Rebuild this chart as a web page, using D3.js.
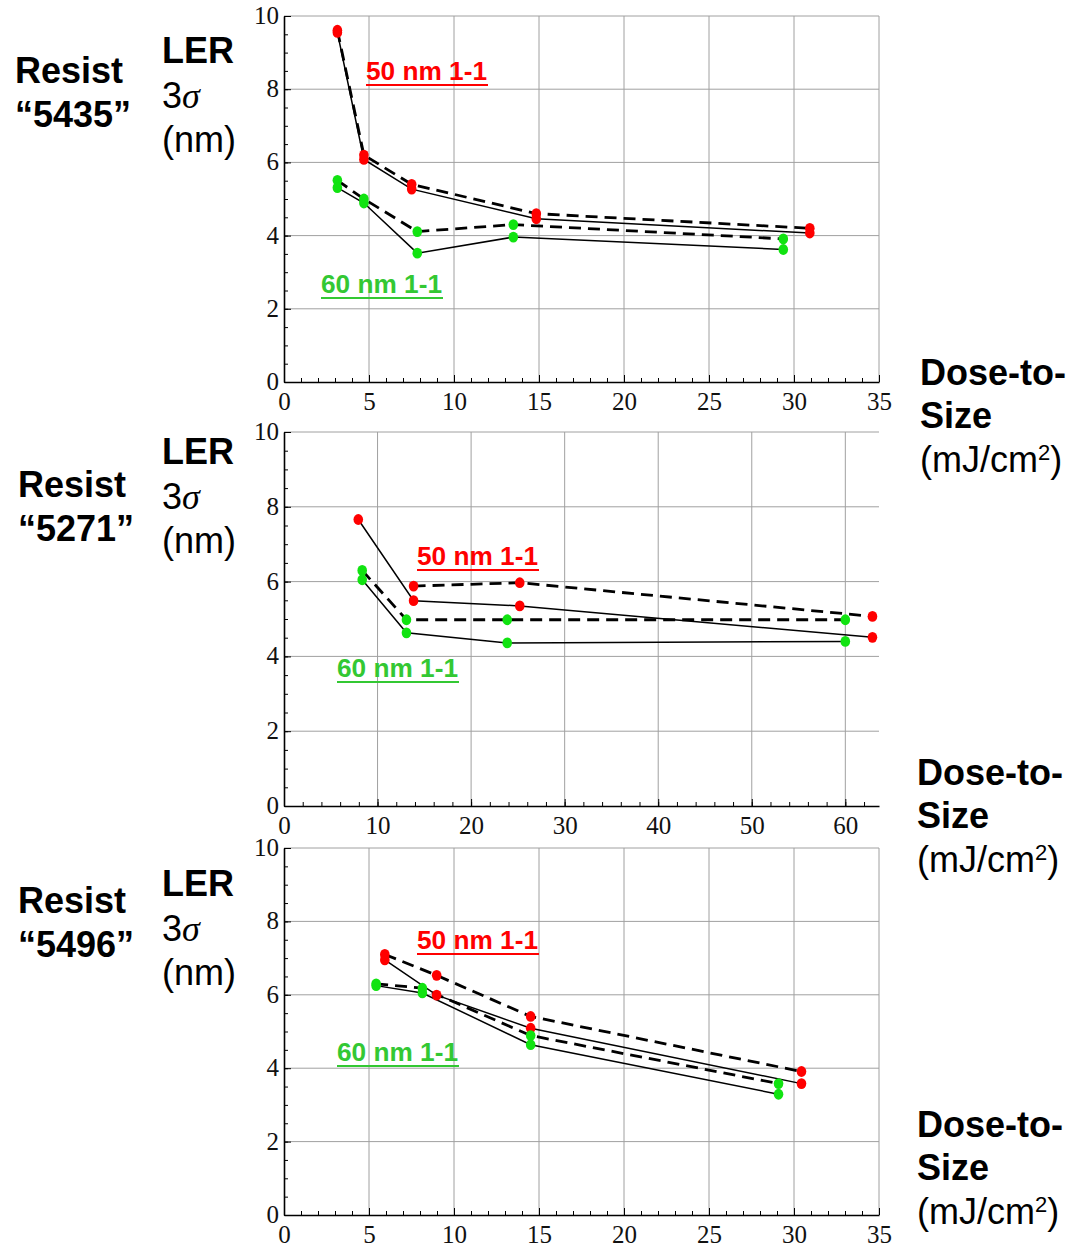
<!DOCTYPE html>
<html>
<head>
<meta charset="utf-8">
<script src="https://cdn.jsdelivr.net/npm/d3@7"></script>
<style>
  body { margin: 0; background: #fff; }
  .tick text { font-family: "Liberation Serif", serif; font-size: 25px; fill: #111; }
  .lbl { font-family: "Liberation Sans", Arial, sans-serif; font-size: 36px; fill: #000; }
  .lbl.b { font-weight: bold; }
  .note { font-family: "Liberation Sans", Arial, sans-serif; font-size: 26px; font-weight: bold; }
</style>
</head>
<body>
<div id="chart"></div>
<script>
// ---- data ----
const resists = ['5435', '5271', '5496'];
const xMaxes = [35, 63.6, 35];

// Resist 5435
const p1RedX = [3.14, 4.70, 7.51, 14.84, 30.93];
const p1RedSolid = [9.55, 6.08, 5.27, 4.46, 4.07];
const p1RedDashed = [9.61, 6.20, 5.40, 4.60, 4.20];
const p1GreenX = [3.14, 4.70, 7.84, 13.49, 29.37];
const p1GreenSolid = [5.31, 4.89, 3.52, 3.96, 3.62];
const p1GreenDashed = [5.51, 5.00, 4.11, 4.30, 3.91];

// Resist 5271
const p2RedSolidX = [7.94, 13.85, 25.2, 62.9];
const p2RedSolid = [7.66, 5.49, 5.35, 4.51];
const p2RedDashedX = [13.85, 25.2, 62.9];
const p2RedDashed = [5.88, 5.97, 5.07];
const p2GreenX = [8.36, 13.09, 23.86, 60.0];
const p2GreenSolid = [6.05, 4.63, 4.36, 4.40];
const p2GreenDashed = [6.30, 4.98, 4.98, 4.98];

// Resist 5496
const p3RedX = [5.93, 8.98, 14.51, 30.44];
const p3RedSolid = [6.95, 5.99, 5.09, 3.58];
const p3RedDashed = [7.10, 6.53, 5.41, 3.91];
const p3GreenX = [5.42, 8.14, 14.51, 29.09];
const p3GreenSolid = [6.25, 6.05, 4.64, 3.29];
const p3GreenDashed = [6.30, 6.18, 4.89, 3.58];

const yTicks = [0, 2, 4, 6, 8, 10];
const xTicks35 = [0, 5, 10, 15, 20, 25, 30, 35];
const xTicks60 = [0, 10, 20, 30, 40, 50, 60];

const zip = (xs, ys) => xs.map((x, i) => [x, ys[i]]);

const panels = [
  {
    top: 16, bottom: 382, xMax: xMaxes[0], xTicks: xTicks35, xMinorStep: 1,
    series: [
      { pts: zip(p1RedX, p1RedDashed), color: 'red', dashed: true },
      { pts: zip(p1RedX, p1RedSolid), color: 'red', dashed: false },
      { pts: zip(p1GreenX, p1GreenDashed), color: 'green', dashed: true },
      { pts: zip(p1GreenX, p1GreenSolid), color: 'green', dashed: false }
    ],
    left: { resistX: 15, resistY: 83, lerY: 63 },
    right: { x: 920, y: 385 },
    notes: { red: [366, 80], green: [321, 293] }
  },
  {
    top: 432, bottom: 806, xMax: xMaxes[1], xTicks: xTicks60, xMinorStep: 2,
    series: [
      { pts: zip(p2RedDashedX, p2RedDashed), color: 'red', dashed: true },
      { pts: zip(p2RedSolidX, p2RedSolid), color: 'red', dashed: false },
      { pts: zip(p2GreenX, p2GreenDashed), color: 'green', dashed: true },
      { pts: zip(p2GreenX, p2GreenSolid), color: 'green', dashed: false }
    ],
    left: { resistX: 18, resistY: 497, lerY: 464 },
    right: { x: 917, y: 785 },
    notes: { red: [417, 565], green: [337, 677] }
  },
  {
    top: 848, bottom: 1215, xMax: xMaxes[2], xTicks: xTicks35, xMinorStep: 1,
    series: [
      { pts: zip(p3RedX, p3RedDashed), color: 'red', dashed: true },
      { pts: zip(p3RedX, p3RedSolid), color: 'red', dashed: false },
      { pts: zip(p3GreenX, p3GreenDashed), color: 'green', dashed: true },
      { pts: zip(p3GreenX, p3GreenSolid), color: 'green', dashed: false }
    ],
    left: { resistX: 18, resistY: 913, lerY: 896 },
    right: { x: 917, y: 1137 },
    notes: { red: [417, 949], green: [337, 1061] }
  }
];

const W = 1071, H = 1246;
const xLeft = 284, xRight = 879;
const pointColor = { red: '#ff0000', green: '#11e311' };
const noteColor = { red: '#ff0000', green: '#33c833' };

const svg = d3.select('#chart').append('svg')
  .attr('width', W)
  .attr('height', H);

panels.forEach((p, i) => {
  const x = d3.scaleLinear().domain([0, p.xMax]).range([xLeft, xRight]);
  const y = d3.scaleLinear().domain([0, 10]).range([p.bottom, p.top]);
  const g = svg.append('g');

  // grid
  g.append('g')
    .selectAll('line.v')
    .data(p.xTicks.filter(d => d > 0))
    .join('line')
    .attr('x1', d => x(d)).attr('x2', d => x(d))
    .attr('y1', p.top).attr('y2', p.bottom)
    .attr('stroke', '#a0a0a0').attr('stroke-width', 1);
  g.append('g')
    .selectAll('line.h')
    .data(yTicks.filter(d => d > 0))
    .join('line')
    .attr('x1', xLeft).attr('x2', xRight)
    .attr('y1', d => y(d)).attr('y2', d => y(d))
    .attr('stroke', '#a0a0a0').attr('stroke-width', 1);

  // minor ticks
  const xMinor = d3.range(0, p.xMax + 0.001, p.xMinorStep);
  const yMinor = d3.range(0, 10.001, 0.5);
  g.append('g')
    .attr('transform', `translate(0,${p.bottom})`)
    .call(d3.axisBottom(x).tickValues(xMinor).tickSize(-4).tickFormat(''))
    .call(s => s.select('.domain').remove())
    .selectAll('line').attr('stroke', '#000');
  g.append('g')
    .attr('transform', `translate(${xLeft},0)`)
    .call(d3.axisLeft(y).tickValues(yMinor).tickSize(-4).tickFormat(''))
    .call(s => s.select('.domain').remove())
    .selectAll('line').attr('stroke', '#000');

  // major axes
  const xAxis = g.append('g')
    .attr('transform', `translate(0,${p.bottom})`)
    .call(d3.axisBottom(x).tickValues(p.xTicks).tickSize(-7).tickPadding(10).tickSizeOuter(0));
  xAxis.select('.domain').attr('stroke-width', 1.6);

  const yAxis = g.append('g')
    .attr('transform', `translate(${xLeft},0)`)
    .call(d3.axisLeft(y).tickValues(yTicks).tickSize(-7).tickPadding(5).tickSizeOuter(0));
  yAxis.select('.domain').attr('stroke-width', 1.6);
  yAxis.selectAll('.tick text').attr('dy', '0.3em');

  // lines
  const line = d3.line().x(d => x(d[0])).y(d => y(d[1]));
  p.series.forEach(s => {
    g.append('path')
      .datum(s.pts)
      .attr('d', line)
      .attr('fill', 'none')
      .attr('stroke', '#000')
      .attr('stroke-width', s.dashed ? 2.8 : 1.5)
      .attr('stroke-dasharray', s.dashed ? '12,7' : null);
  });

  // points
  p.series.forEach(s => {
    g.append('g')
      .selectAll('ellipse')
      .data(s.pts)
      .join('ellipse')
      .attr('cx', d => x(d[0]))
      .attr('cy', d => y(d[1]))
      .attr('rx', 4.8).attr('ry', 5.4)
      .attr('fill', pointColor[s.color]);
  });

  // annotations
  const notes = [['red', '50 nm 1-1'], ['green', '60 nm 1-1']];
  notes.forEach(([c, txt]) => {
    const [nx, ny] = p.notes[c];
    g.append('text')
      .attr('class', 'note')
      .attr('x', nx).attr('y', ny)
      .attr('fill', noteColor[c])
      .attr('textLength', 121)
      .attr('lengthAdjust', 'spacingAndGlyphs')
      .text(txt);
    g.append('line')
      .attr('x1', nx).attr('x2', nx + 122)
      .attr('y1', ny + 5).attr('y2', ny + 5)
      .attr('stroke', noteColor[c]).attr('stroke-width', 2.2);
  });

  // left labels
  const L = p.left;
  g.append('text').attr('class', 'lbl b').attr('x', L.resistX).attr('y', L.resistY).text('Resist');
  g.append('text').attr('class', 'lbl b').attr('x', L.resistX).attr('y', L.resistY + 44).text('\u201c' + resists[i] + '\u201d');
  g.append('text').attr('class', 'lbl b').attr('x', 162).attr('y', L.lerY).text('LER');
  const sig = g.append('text').attr('class', 'lbl').attr('x', 162).attr('y', L.lerY + 45);
  sig.append('tspan').text('3');
  sig.append('tspan').attr('font-family', '"Liberation Serif", serif').attr('font-style', 'italic').text('\u03c3');
  g.append('text').attr('class', 'lbl').attr('x', 162).attr('y', L.lerY + 89).text('(nm)');

  // right labels
  const R = p.right;
  g.append('text').attr('class', 'lbl b').attr('x', R.x).attr('y', R.y).text('Dose-to-');
  g.append('text').attr('class', 'lbl b').attr('x', R.x).attr('y', R.y + 43).text('Size');
  const u = g.append('text').attr('class', 'lbl').attr('x', R.x).attr('y', R.y + 87);
  u.append('tspan').text('(mJ/cm');
  u.append('tspan').attr('font-size', 22).attr('dy', -12).text('2');
  u.append('tspan').attr('dy', 12).text(')');
});
</script>
</body>
</html>
